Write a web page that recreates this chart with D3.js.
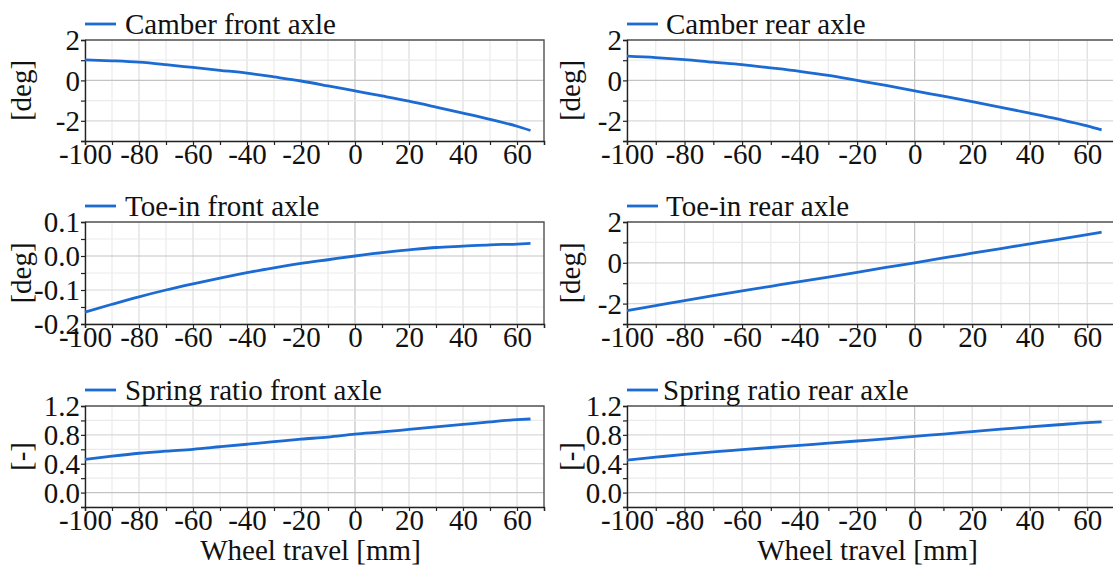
<!DOCTYPE html>
<html>
<head>
<meta charset="utf-8">
<script src="https://cdn.jsdelivr.net/npm/d3@7"></script>
<style>
  body { margin: 0; background: #fff; }
  svg { display: block; }
  svg text { font-family: "Liberation Serif", "Times New Roman", serif; }
</style>
</head>
<body>
<svg id="chart" width="1113" height="566"></svg>
<script>
// wheel travel [mm] sample points shared by all curves
const wheelTravel = [-100, -90, -80, -70, -60, -50, -40, -30, -20, -10, 0, 10, 20, 30, 40, 50, 60, 65];

const camberFront = [1.02, 0.97, 0.9, 0.78, 0.64, 0.5, 0.36, 0.17, -0.03, -0.27, -0.52, -0.77, -1.03, -1.32, -1.62, -1.93, -2.27, -2.48];
const camberRear  = [1.2, 1.13, 1.03, 0.9, 0.78, 0.62, 0.45, 0.25, 0.0, -0.25, -0.52, -0.78, -1.05, -1.33, -1.62, -1.92, -2.25, -2.45];
const toeFront    = [-0.165, -0.142, -0.12, -0.1, -0.082, -0.065, -0.049, -0.035, -0.022, -0.011, 0.0, 0.01, 0.018, 0.025, 0.029, 0.033, 0.035, 0.037];
const toeRear     = [-2.35, -2.1, -1.85, -1.61, -1.38, -1.15, -0.92, -0.7, -0.47, -0.23, 0.0, 0.24, 0.47, 0.7, 0.93, 1.15, 1.38, 1.5];
const springFront = [0.46, 0.505, 0.545, 0.575, 0.6, 0.635, 0.67, 0.705, 0.74, 0.77, 0.81, 0.84, 0.875, 0.91, 0.945, 0.98, 1.01, 1.02];
const springRear  = [0.45, 0.49, 0.53, 0.565, 0.595, 0.625, 0.655, 0.685, 0.715, 0.745, 0.78, 0.81, 0.845, 0.88, 0.91, 0.94, 0.97, 0.98];

// axis ticks
const xMajor = [-100, -80, -60, -40, -20, 0, 20, 40, 60];
const xMinor = [-90, -70, -50, -30, -10, 10, 30, 50, 70];
const degMajor = [-2, 0, 2], degMinor = [-3, -1, 1];
const toeFMajor = [-0.2, -0.1, 0.0, 0.1], toeFMinor = [-0.15, -0.05, 0.05];
const ratioMajor = [0.0, 0.4, 0.8, 1.2], ratioMinor = [-0.2, 0.2, 0.6, 1.0];

const blue = "#1c6bd2";
const serif = '"Liberation Serif", "Times New Roman", serif';
const svg = d3.select("#chart");

function panel(o) {
  const x = d3.scaleLinear().domain([-100, 70]).range([o.left, o.right]);
  const y = d3.scaleLinear().domain(o.yDomain).range([o.bottom, o.top]);
  const g = svg.append("g");

  // grid
  const grid = g.append("g");
  xMinor.concat(xMajor).forEach(v => {
    grid.append("line")
      .attr("x1", x(v)).attr("x2", x(v)).attr("y1", o.top).attr("y2", o.bottom)
      .attr("stroke", v === 0 ? "#c4c4c4" : (xMajor.includes(v) ? "#dedede" : "#ebebeb"))
      .attr("stroke-width", 1.2);
  });
  o.yMinor.concat(o.yMajor).forEach(v => {
    grid.append("line")
      .attr("x1", o.left).attr("x2", o.right).attr("y1", y(v)).attr("y2", y(v))
      .attr("stroke", v === 0 ? "#c4c4c4" : (o.yMajor.includes(v) ? "#d8d8d8" : "#ebebeb"))
      .attr("stroke-width", 1.2);
  });

  // frame top / right
  g.append("path")
    .attr("d", `M${o.left},${o.top}H${o.right}V${o.bottom}`)
    .attr("fill", "none").attr("stroke", "#555").attr("stroke-width", 1.4);

  // axes
  const xAxis = g.append("g")
    .attr("transform", `translate(0,${o.bottom})`)
    .call(d3.axisBottom(x).tickValues(xMajor.concat(xMinor)).tickSize(4).tickPadding(0)
      .tickFormat(d => xMajor.includes(d) ? String(d) : ""));
  const yAxis = g.append("g")
    .attr("transform", `translate(${o.left},0)`)
    .call(d3.axisLeft(y).tickValues(o.yMajor.concat(o.yMinor)).tickSize(4).tickPadding(1)
      .tickFormat(d => o.yMajor.includes(d) ? o.fmt(d) : ""));
  [xAxis, yAxis].forEach(a => {
    a.attr("font-family", serif).attr("font-size", 29);
    a.select(".domain").attr("stroke", "#222").attr("stroke-width", 1.4);
    a.selectAll(".tick line").attr("stroke", "#222").attr("stroke-width", 1.2);
    a.selectAll("text").attr("fill", "#111")
      .style("font-family", serif).style("font-size", "29px");
  });
  xAxis.selectAll("text").attr("y", 23).attr("dy", null);
  yAxis.selectAll("text").attr("dy", "0.34em");

  // curve
  const line = d3.line().curve(d3.curveMonotoneX)
    .x((d, i) => x(wheelTravel[i])).y(d => y(d));
  g.append("path").datum(o.values)
    .attr("d", line).attr("fill", "none")
    .attr("stroke", blue).attr("stroke-width", 2.8).attr("stroke-linejoin", "round");

  // legend
  g.append("line")
    .attr("x1", o.left).attr("x2", o.left + 31)
    .attr("y1", o.top - 16).attr("y2", o.top - 16)
    .attr("stroke", blue).attr("stroke-width", 2.8);
  g.append("text")
    .attr("x", o.left + o.legendGap).attr("y", o.top - 6)
    .attr("font-size", 29).attr("fill", "#111")
    .text(o.legend);

  // y label
  g.append("text")
    .attr("transform", `translate(${o.ylabX},${(o.top + o.bottom) / 2}) rotate(-90)`)
    .attr("text-anchor", "middle").attr("dy", "0.3em")
    .attr("font-size", 29).attr("fill", "#111")
    .text(o.ylabel);

  if (o.xlabel) {
    g.append("text")
      .attr("x", (o.left + o.right) / 2 - 4).attr("y", 560)
      .attr("text-anchor", "middle")
      .attr("font-size", 29).attr("fill", "#111")
      .text(o.xlabel);
  }
}

const cols = [{ left: 85, right: 544, ylabX: 22, legendGap: 40 }, { left: 627, right: 1116, ylabX: 571, legendGap: 39 }];
const rows = [{ top: 40, bottom: 141 }, { top: 222, bottom: 324 }, { top: 406, bottom: 507 }];
const fmt0 = d => String(d);
const fmt1 = d => d.toFixed(1);

panel({ ...cols[0], ...rows[0], values: camberFront, legend: "Camber front axle", ylabel: "[deg]",
  yDomain: [-3, 2], yMajor: degMajor, yMinor: degMinor, fmt: fmt0 });
panel({ ...cols[1], ...rows[0], values: camberRear, legend: "Camber rear axle", ylabel: "[deg]",
  yDomain: [-3, 2], yMajor: degMajor, yMinor: degMinor, fmt: fmt0 });
panel({ ...cols[0], ...rows[1], values: toeFront, legend: "Toe-in front axle", ylabel: "[deg]",
  yDomain: [-0.2, 0.1], yMajor: toeFMajor, yMinor: toeFMinor, fmt: fmt1 });
panel({ ...cols[1], ...rows[1], values: toeRear, legend: "Toe-in rear axle", ylabel: "[deg]",
  yDomain: [-3, 2], yMajor: degMajor, yMinor: degMinor, fmt: fmt0 });
panel({ ...cols[0], ...rows[2], values: springFront, legend: "Spring ratio front axle", ylabel: "[-]",
  yDomain: [-0.2, 1.2], yMajor: ratioMajor, yMinor: ratioMinor, fmt: fmt1, xlabel: "Wheel travel [mm]" });
panel({ ...cols[1], ...rows[2], values: springRear, legend: "Spring ratio rear axle", ylabel: "[-]",
  yDomain: [-0.2, 1.2], yMajor: ratioMajor, yMinor: ratioMinor, fmt: fmt1, xlabel: "Wheel travel [mm]", legendGap: 36 });
</script>
</body>
</html>
